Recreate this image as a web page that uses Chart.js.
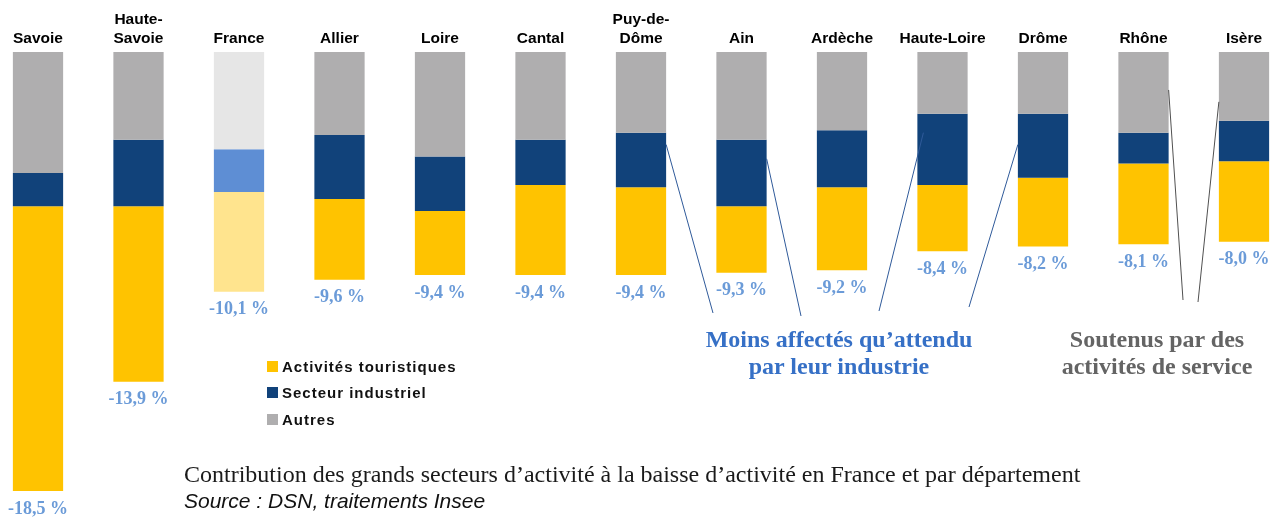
<!DOCTYPE html>
<html>
<head>
<meta charset="utf-8">
<script src="https://cdn.jsdelivr.net/npm/chart.js@4/dist/chart.umd.min.js"></script>
<style>
	body { margin: 0; background: #fff; }
	#wrap { position: relative; width: 1287px; height: 518px; }
	#chart { position: absolute; left: 0; top: 0; }
	#legend { position: absolute; left: 267px; top: 353px; font: bold 15px "Liberation Sans", Arial, sans-serif; letter-spacing: 1px; color: #111; }
	#legend div { height: 26.5px; display: flex; align-items: center; }
	#legend span.box { display: inline-block; width: 11px; height: 11px; margin-right: 4px; }
	.note { position: absolute; font: bold 24px/27px "Liberation Serif", "Times New Roman", serif; text-align: center; white-space: nowrap; transform: translateX(-50%); }
	.caption { position: absolute; left: 184px; white-space: nowrap; }
</style>
</head>
<body>
<div id="wrap">
	<canvas id="chart" width="1287" height="518"></canvas>
	<div id="legend"></div>
	<div class="note" style="left:839px; top:326px; color:#3670c6;">Moins affectés qu’attendu<br>par leur industrie</div>
	<div class="note" style="left:1157px; top:326px; color:#646464;">Soutenus par des<br>activités de service</div>
	<div class="caption" style="top:461px; font: 24px 'Liberation Serif', serif; color:#1a1a1a;">Contribution des grands secteurs d’activité à la baisse d’activité en France et par département</div>
	<div class="caption" style="top:489px; font: italic 21px 'Liberation Sans', sans-serif; color:#111;">Source : DSN, traitements Insee</div>
</div>
<script>
let categories = [
	["Savoie"], ["Haute-", "Savoie"], ["France"], ["Allier"], ["Loire"], ["Cantal"],
	["Puy-de-", "Dôme"], ["Ain"], ["Ardèche"], ["Haute-Loire"], ["Drôme"], ["Rhône"], ["Isère"],
];
// contributions (points de %) à la baisse d'activité
let autres = [-5.1, -3.7, -4.1, -3.5, -4.4, -3.7, -3.4, -3.7, -3.3, -2.6, -2.6, -3.4, -2.9];
let industrie = [-1.4, -2.8, -1.8, -2.7, -2.3, -1.9, -2.3, -2.8, -2.4, -3.0, -2.7, -1.3, -1.7];
let tourisme = [-12.0, -7.4, -4.2, -3.4, -2.7, -3.8, -3.7, -2.8, -3.5, -2.8, -2.9, -3.4, -3.4];

let franceIndex = 2;
let colors = { tourisme: "#ffc300", industrie: "#11427a", autres: "#afaeaf" };
let franceColors = { tourisme: "#ffe48e", industrie: "#5e8ed4", autres: "#e6e6e6" };

let barColors = (key) => categories.map((c, i) => (i === franceIndex ? franceColors[key] : colors[key]));

// traits de rappel vers les commentaires
let leaders = [
	{ i: 6, side: 1, at: -3.9, to: [713, 313], color: "#2f5a9a" },
	{ i: 7, side: 1, at: -4.5, to: [801, 316], color: "#2f5a9a" },
	{ i: 9, side: -1, at: -3.4, dx: 6, to: [879, 311], color: "#2f5a9a" },
	{ i: 10, side: -1, at: -3.9, to: [969, 307], color: "#2f5a9a" },
	{ i: 11, side: 1, at: -1.6, to: [1183, 300], color: "#505050" },
	{ i: 12, side: -1, at: -2.1, to: [1198, 302], color: "#505050" },
];

let extras = {
	id: "extras",
	afterDatasetsDraw(chart) {
		let ctx = chart.ctx;
		let y = chart.scales.y;
		let bars = chart.getDatasetMeta(0).data;
		ctx.save();
		ctx.font = "bold 18px 'Liberation Serif', serif";
		ctx.fillStyle = "#6b9bd8";
		ctx.textAlign = "center";
		ctx.textBaseline = "middle";
		bars.forEach((bar, i) => {
			let total = autres[i] + industrie[i] + tourisme[i];
			ctx.fillText(total.toFixed(1).replace(".", ",") + " %", bar.x, y.getPixelForValue(total) + 18);
		});
		ctx.lineWidth = 1;
		leaders.forEach((l) => {
			let bar = bars[l.i];
			let x0 = bar.x + l.side * (bar.width / 2) - l.side * (l.dx || 0);
			ctx.strokeStyle = l.color;
			ctx.beginPath();
			ctx.moveTo(x0, y.getPixelForValue(l.at));
			ctx.lineTo(l.to[0], l.to[1]);
			ctx.stroke();
		});
		ctx.restore();
	},
};

new Chart(document.getElementById("chart"), {
	type: "bar",
	data: {
		labels: categories,
		datasets: [
			{ label: "Autres", data: autres, backgroundColor: barColors("autres") },
			{ label: "Secteur industriel", data: industrie, backgroundColor: barColors("industrie") },
			{ label: "Activités touristiques", data: tourisme, backgroundColor: barColors("tourisme") },
		],
	},
	options: {
		responsive: false,
		animation: false,
		layout: { padding: { left: 38, right: 43, top: 0, bottom: 27 } },
		datasets: { bar: { barPercentage: 0.5, categoryPercentage: 1, clip: false } },
		scales: {
			x: {
				position: "top",
				stacked: true,
				offset: false,
				grid: { display: false, drawTicks: false },
				border: { display: false },
				ticks: {
					autoSkip: false,
					maxRotation: 0,
					padding: 4,
					color: "#000",
					font: { family: "'Liberation Sans', Arial, sans-serif", size: 15.5, weight: "bold", lineHeight: 1.2 },
				},
				afterFit: (scale) => { scale.height = 52; },
			},
			y: { display: false, stacked: true, min: -18.5, max: 0 },
		},
		plugins: { legend: { display: false }, tooltip: { enabled: false } },
	},
	plugins: [extras],
});

// légende (ordre inverse de l'empilement)
let legendItems = [
	["Activités touristiques", colors.tourisme],
	["Secteur industriel", colors.industrie],
	["Autres", colors.autres],
];
document.getElementById("legend").innerHTML = legendItems
	.map(([name, c]) => `<div><span class="box" style="background:${c}"></span>${name}</div>`)
	.join("");
</script>
</body>
</html>
